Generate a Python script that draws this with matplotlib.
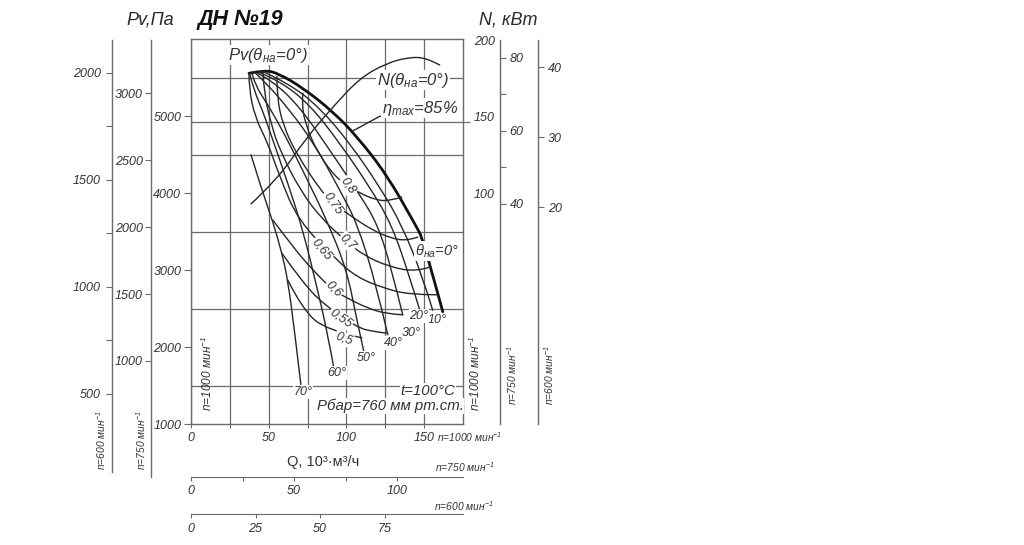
#!/usr/bin/env python3
# -*- coding: utf-8 -*-

import matplotlib

matplotlib.use("Agg")

import matplotlib.font_manager as fm
import matplotlib.pyplot as plt
from matplotlib.patches import PathPatch
from matplotlib.path import Path

WIDTH = 1024
HEIGHT = 545
GRAY = "#6a6a6a"
INK = "#262626"
TEXT = "#333333"

installed = {f.name for f in fm.fontManager.ttflist}
NARROW = "Liberation Sans Narrow" if "Liberation Sans Narrow" in installed else "Liberation Sans"
# narrow face is set larger, regular one is kept smaller, about the same width
TICK_SIZE = 10.8 if NARROW != "Liberation Sans" else 9

plt.rcParams["font.family"] = [NARROW, "DejaVu Sans"]
plt.rcParams["font.style"] = "italic"
plt.rcParams["mathtext.fontset"] = "custom"
plt.rcParams["mathtext.rm"] = NARROW + ":italic"
plt.rcParams["mathtext.it"] = NARROW + ":italic"
plt.rcParams["mathtext.bf"] = NARROW + ":italic:bold"
plt.rcParams["mathtext.fallback"] = "cm"

# Q, 10^3 m3/h and Pv, Pa, both at n=1000 1/min
THETA_0_Q = [37.3, 47.6, 55.9, 72.0, 91.3, 106.7, 126.0, 145.2, 148.5, 154.9, 162.0]
THETA_0_P = [5560, 5600, 5560, 5370, 5060, 4740, 4240, 3560, 3430, 2980, 2460]
THETA_10_Q = [45.6, 63.6, 82.9, 102.2, 121.5, 135.6, 149.1, 155.5]
THETA_10_P = [5590, 5420, 5110, 4650, 4080, 3590, 2910, 2480]
THETA_20_Q = [43.1, 57.2, 76.5, 95.8, 115.0, 129.2, 140.7, 147.2]
THETA_20_P = [5580, 5460, 5150, 4650, 4080, 3590, 2910, 2480]
THETA_30_Q = [41.1, 52.1, 70.1, 89.3, 108.6, 120.2, 129.2, 136.2]
THETA_30_P = [5580, 5470, 5120, 4560, 3980, 3590, 3000, 2420]
THETA_40_Q = [40.5, 47.6, 63.6, 79.7, 95.8, 107.3, 119.5, 126.6]
THETA_40_P = [5580, 5450, 5080, 4630, 4040, 3590, 2780, 2160]
THETA_50_Q = [39.2, 41.1, 49.5, 60.4, 73.3, 87.4, 100.3, 106.7, 111.2]
THETA_50_P = [5560, 5410, 5150, 4760, 4240, 3650, 3000, 2350, 1940]
THETA_60_Q = [37.9, 40.5, 46.3, 52.7, 62.3, 72.0, 81.0, 87.4, 91.9]
THETA_60_P = [5540, 5340, 5060, 4690, 4130, 3520, 2780, 2220, 1730]
THETA_70_Q = [38.6, 45.6, 52.7, 58.5, 62.3, 66.8, 70.7]
THETA_70_P = [4500, 4040, 3630, 3220, 2870, 2180, 1510]

ETA_80_Q = [72.0, 71.3, 73.3, 81.6, 94.5, 108.6, 119.5, 127.9, 135.6]
ETA_80_P = [5300, 5190, 4910, 4520, 4170, 4000, 3910, 3900, 3950]
ETA_75_Q = [55.3, 55.3, 59.1, 68.1, 84.8, 91.3, 106.7, 117.0, 127.9, 138.8, 145.9]
ETA_75_P = [5520, 5250, 4890, 4500, 4000, 3870, 3650, 3520, 3420, 3380, 3430]
ETA_70_Q = [46.3, 46.9, 52.1, 57.2, 70.1, 84.8, 100.3, 110.5, 127.9, 145.2, 153.6]
ETA_70_P = [5580, 5300, 4860, 4560, 4040, 3650, 3370, 3200, 3040, 2980, 3040]
ETA_65_Q = [37.3, 37.3, 41.1, 49.5, 57.2, 68.8, 93.8, 106.7, 123.4, 140.7, 158.7]
ETA_65_P = [5560, 5370, 4990, 4650, 4210, 3650, 3130, 2910, 2770, 2680, 2680]
ETA_60_Q = [52.7, 65.6, 78.4, 91.3, 100.3, 113.1, 126.0, 136.2]
ETA_60_P = [3650, 3300, 3000, 2740, 2640, 2510, 2430, 2420]
ETA_55_Q = [58.5, 72.0, 87.4, 106.7, 117.0, 126.6]
ETA_55_P = [3220, 2830, 2520, 2260, 2200, 2180]
ETA_50_Q = [62.3, 72.0, 87.4, 109.9]
ETA_50_P = [2870, 2480, 2220, 2120]

# N, kW at n=1000 1/min
POWER_Q = [38.6, 55.3, 74.6, 91.3, 108.6, 126.0, 140.7, 151.7, 160.0]
POWER_N = [93.2, 108.8, 136.8, 156.4, 175.2, 185.0, 188.9, 188.3, 183.7]

# tick values
Q_TICKS_1000 = [0, 25, 50, 75, 100, 125, 150]
Q_LABELS_1000 = ["0", "", "50", "", "100", "", "150"]
Q_TICKS_750 = [0, 25, 50, 75, 100]
Q_LABELS_750 = ["0", "", "50", "", "100"]
Q_TICKS_600 = [0, 25, 50, 75]
Q_LABELS_600 = ["0", "25", "50", "75"]
P_TICKS_1000 = [1000, 2000, 3000, 4000, 5000]
P_GRID_1000 = [1500, 2000, 2500, 3000, 3500, 4000, 4500, 4930, 5500]
P_TICKS_750 = [1000, 1500, 2000, 2500, 3000]
P_TICKS_600 = [500, 750, 1000, 1250, 1500, 1750, 2000]
P_LABELS_600 = ["500", "", "1000", "", "1500", "", "2000"]
N_TICKS_1000 = [100, 150, 200]
N_MARKS_1000 = [100, 146.6, 200]
N_TICKS_750 = [40, 50, 60, 70, 80]
N_LABELS_750 = ["40", "", "60", "", "80"]
N_TICKS_600 = [20, 30, 40]


def box(left, top, right, bottom):
    return [left / WIDTH, 1 - bottom / HEIGHT, (right - left) / WIDTH, (bottom - top) / HEIGHT]


def put(fig, x, y, text, size=TICK_SIZE, **kwargs):
    kwargs.setdefault("ha", "center")
    kwargs.setdefault("va", "center")
    kwargs.setdefault("color", TEXT)
    return fig.text(x / WIDTH, 1 - y / HEIGHT, text, fontsize=size, **kwargs)


def curve(ax, xs, ys, width=1.0, color=INK):
    # quadratic spline through the read points, drawn as one path
    points = list(zip(xs, ys))
    verts = [points[0]]
    codes = [Path.MOVETO]
    for i in range(1, len(points) - 1):
        a = points[i]
        b = points[i + 1]
        end = b if i == len(points) - 2 else ((a[0] + b[0]) / 2, (a[1] + b[1]) / 2)
        verts += [a, end]
        codes += [Path.CURVE3, Path.CURVE3]
    ax.add_patch(
        PathPatch(Path(verts, codes), fill=False, edgecolor=color, linewidth=width, zorder=3, capstyle="round")
    )


def scale_axis(fig, position, side, limits, ticks, labels, pad):
    ax = fig.add_axes(position)
    ax.patch.set_visible(False)
    for name in ["top", "bottom", "left", "right"]:
        ax.spines[name].set_visible(name == side)
        ax.spines[name].set_color(GRAY)
        ax.spines[name].set_linewidth(1.0)
    ax.set_xticks([])
    ax.set_ylim(*limits)
    ax.yaxis.set_ticks_position(side)
    ax.set_yticks(ticks, labels)
    ax.tick_params(axis="y", length=4, width=0.8, color=GRAY, labelsize=TICK_SIZE, labelcolor=TEXT, pad=pad)
    return ax


def q_axis(fig, position, limits, ticks, labels):
    ax = fig.add_axes(position)
    ax.patch.set_visible(False)
    for name in ["top", "bottom", "left", "right"]:
        ax.spines[name].set_visible(name == "top")
        ax.spines[name].set_color(GRAY)
    ax.set_yticks([])
    ax.set_xlim(*limits)
    ax.xaxis.set_ticks_position("top")
    ax.set_xticks(ticks, [])
    ax.tick_params(axis="x", direction="in", length=3, width=0.8, color=GRAY)
    for value, label in zip(ticks, labels):
        ax.text(value, 0.2, label, transform=ax.get_xaxis_transform(), ha="center", va="center",
                fontsize=TICK_SIZE, color=TEXT)
    return ax


def main():
    fig = plt.figure(figsize=(WIDTH / 100, HEIGHT / 100), dpi=100, facecolor="white")

    ax = fig.add_axes(box(191, 39.4, 463, 424))
    ax.set_xlim(0, 175)
    ax.set_ylim(1000, 6000)
    for spine in ax.spines.values():
        spine.set_color(GRAY)
        spine.set_linewidth(1.0)
    ax.set_axisbelow(True)
    ax.set_xticks(Q_TICKS_1000, Q_LABELS_1000)
    ax.set_yticks(P_TICKS_1000, [str(v) for v in P_TICKS_1000])
    ax.set_yticks(P_GRID_1000, minor=True)
    ax.tick_params(axis="x", length=3, width=0.8, color=GRAY, labelsize=TICK_SIZE, labelcolor=TEXT, pad=3)
    ax.tick_params(axis="y", which="major", length=5, width=0.8, color=GRAY, labelsize=TICK_SIZE, labelcolor=TEXT, pad=2)
    ax.tick_params(axis="y", which="minor", length=0)
    ax.yaxis.get_major_ticks()[-1].tick1line.set_visible(False)
    ax.grid(axis="x", which="major", color=GRAY, linewidth=0.9)
    ax.grid(axis="y", which="minor", color=GRAY, linewidth=0.9)

    curve(ax, THETA_0_Q, THETA_0_P, width=2.0, color="#111111")
    for qs, ps in [
        (THETA_10_Q, THETA_10_P),
        (THETA_20_Q, THETA_20_P),
        (THETA_30_Q, THETA_30_P),
        (THETA_40_Q, THETA_40_P),
        (THETA_50_Q, THETA_50_P),
        (THETA_60_Q, THETA_60_P),
        (THETA_70_Q, THETA_70_P),
        (ETA_80_Q, ETA_80_P),
        (ETA_75_Q, ETA_75_P),
        (ETA_70_Q, ETA_70_P),
        (ETA_65_Q, ETA_65_P),
        (ETA_60_Q, ETA_60_P),
        (ETA_55_Q, ETA_55_P),
        (ETA_50_Q, ETA_50_P),
    ]:
        curve(ax, qs, ps)

    # power scale shares the plot frame
    ax_n = ax.twinx()
    ax_n.patch.set_visible(False)
    for spine in ax_n.spines.values():
        spine.set_visible(False)
    ax_n.set_ylim(-50.2, 200.4)
    ax_n.set_yticks(N_TICKS_1000, [str(v) for v in N_TICKS_1000])
    ax_n.set_yticks(N_MARKS_1000, minor=True)
    ax_n.tick_params(axis="y", which="major", length=0, labelsize=TICK_SIZE, labelcolor=TEXT, pad=8)
    ax_n.tick_params(axis="y", which="minor", length=5, width=0.8, color=GRAY)
    curve(ax_n, POWER_Q, POWER_N)

    scale_axis(fig, box(111.7, 40, 130, 472), "left", (135.5, 2154), P_TICKS_600, P_LABELS_600, 4)
    scale_axis(fig, box(151, 40, 170, 477), "left", (134, 3396), P_TICKS_750,
               [str(v) for v in P_TICKS_750], 2)
    scale_axis(fig, box(480, 40, 500, 424), "right", (-20.3, 84.9), N_TICKS_750, N_LABELS_750, 3)
    scale_axis(fig, box(518, 40, 538, 424), "right", (-11, 43.9), N_TICKS_600,
               [str(v) for v in N_TICKS_600], 3)
    q_axis(fig, box(191, 476.7, 463, 495), (0, 132), Q_TICKS_750, Q_LABELS_750)
    q_axis(fig, box(191, 514, 463, 533), (0, 105.4), Q_TICKS_600, Q_LABELS_600)

    put(fig, 150, 20, "Pv,Па", size=13, color="#2a2a2a")
    put(fig, 240, 19, "ДН №19", size=15.5, fontweight="bold", color="#111111", family="Liberation Sans")
    put(fig, 508, 20, "N, кВт", size=13, color="#2a2a2a")
    put(fig, 323, 462, "Q, 10³·м³/ч", size=10.5, style="normal", family="Liberation Sans")

    small = "мин$^{-1}$"
    put(fig, 101, 440, "n=600 " + small, size=7.4, rotation=90)
    put(fig, 141, 440, "n=750 " + small, size=7.4, rotation=90)
    put(fig, 207, 373, "n=1000 " + small, size=8.6, rotation=90)
    put(fig, 475, 373, "n=1000 " + small, size=8.6, rotation=90)
    put(fig, 512, 375, "n=750 " + small, size=7.4, rotation=90)
    put(fig, 549, 375, "n=600 " + small, size=7.4, rotation=90)
    put(fig, 470, 437, "n=1000 " + small, size=7.4)
    put(fig, 465, 467, "n=750 " + small, size=7.4)
    put(fig, 464, 506, "n=600 " + small, size=7.4)

    white = dict(facecolor="white", edgecolor="none", pad=0.6)
    put(fig, 268, 55, r"Pv(θ$_{\mathrm{на}}$=0°)", size=12, bbox=white)
    put(fig, 413, 80, r"N(θ$_{\mathrm{на}}$=0°)", size=12, bbox=white)
    put(fig, 420, 108, r"η$_{\mathrm{max}}$=85%", size=12, bbox=white)
    put(fig, 437, 251, r"θ$_{\mathrm{на}}$=0°", size=10.5, bbox=white)
    put(fig, 428, 391, "t=100°C", size=10.8, bbox=white)
    put(fig, 390, 406, "Рбар=760 мм рт.ст.", size=10.8, bbox=white)

    for x, y, label in [
        (437, 320, "10°"),
        (419, 316, "20°"),
        (411, 333, "30°"),
        (393, 343, "40°"),
        (366, 358, "50°"),
        (337, 373, "60°"),
        (303, 392, "70°"),
    ]:
        put(fig, x, y, label, bbox=white)

    for x, y, label, angle in [
        (348, 186, "0,8", -55),
        (333, 203, "0,75", -55),
        (348, 242, "0,7", -45),
        (322, 249, "0,65", -50),
        (334, 289, "0,6", -45),
        (341, 318, "0,55", -35),
        (344, 339, "0,5", -20),
    ]:
        put(fig, x, y, label, rotation=angle, bbox=white)

    # leader of the efficiency note, in Q and Pv
    ax.plot([104.1, 121.4, 166.5], [4810, 5000, 5000], color=INK, lw=1.0, zorder=3)

    fig.savefig("out.png", dpi=100)


if __name__ == "__main__":
    main()
